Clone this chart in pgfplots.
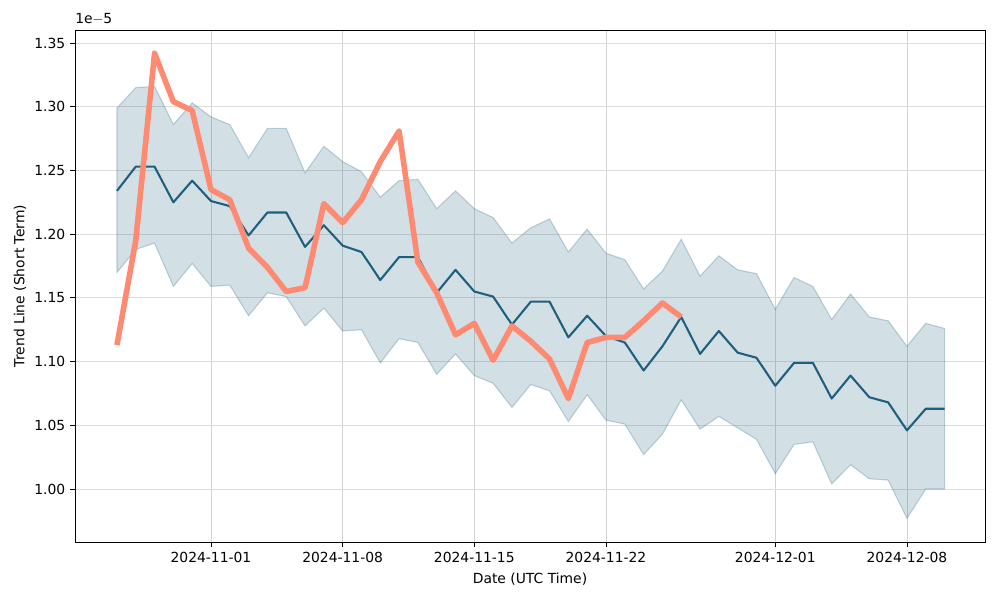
\documentclass[border=0pt]{standalone}
\usepackage{fontspec}
\setmainfont{DejaVu Sans}
\usepackage{pgfplots}
\usepackage{pgfplotstable}
\pgfplotsset{compat=1.18}
\definecolor{Trend}{HTML}{1F5F7E}
\definecolor{Price}{HTML}{FF8A72}
\definecolor{GridGray}{HTML}{DDDDDD}

% day index 0 = 2024-10-27
\pgfplotstableread{
x mid
0 1.234
1 1.253
2 1.253
3 1.225
4 1.242
5 1.226
6 1.222
7 1.199
8 1.217
9 1.217
10 1.190
11 1.207
12 1.191
13 1.186
14 1.164
15 1.182
16 1.182
17 1.154
18 1.172
19 1.155
20 1.151
21 1.129
22 1.147
23 1.147
24 1.119
25 1.136
26 1.120
27 1.115
28 1.093
29 1.112
30 1.135
31 1.106
32 1.124
33 1.107
34 1.103
35 1.081
36 1.099
37 1.099
38 1.071
39 1.089
40 1.072
41 1.068
42 1.046
43 1.063
44 1.063
}\midtable

\pgfplotstableread{
x price
0 1.113
1 1.195
2 1.342
3 1.304
4 1.297
5 1.235
6 1.227
7 1.189
8 1.174
9 1.155
10 1.158
11 1.224
12 1.209
13 1.227
14 1.257
15 1.281
16 1.178
17 1.154
18 1.121
19 1.130
20 1.101
21 1.128
22 1.116
23 1.102
24 1.071
25 1.115
26 1.119
27 1.119
28 1.132
29 1.146
30 1.135
}\pricetable

\begin{document}
\begin{tikzpicture}
\begin{axis}[
    scale only axis,
    width=655.2pt, height=368.6pt,
    xmin=-2.23, xmax=46.15,
    ymin=0.9584, ymax=1.3602,
    xtick={5,12,19,26,35,42},
    xticklabels={2024-11-01,2024-11-08,2024-11-15,2024-11-22,2024-12-01,2024-12-08},
    ytick={1.00,1.05,1.10,1.15,1.20,1.25,1.30,1.35},
    yticklabel style={/pgf/number format/.cd,fixed,fixed zerofill,precision=2},
    scaled y ticks=false,
    /pgf/number format/assume math mode=true,
    tick align=outside,
    major tick length=3.5pt,
    xtick pos=bottom, ytick pos=left,
    tick style={black, line width=0.6pt},
    grid=major,
    grid style={GridGray, line width=0.6pt},
    x grid style={gray!35, line width=0.6pt},
    axis line style={line width=0.6pt},
    font=\fontsize{10pt}{12pt}\selectfont,
    xlabel={Date (UTC Time)},
    ylabel={Trend Line (Short Term)},
    xlabel style={yshift=-1pt},
    ylabel style={yshift=-1pt},
    clip=true,
]
% confidence band: upper edge forward, lower edge back
\addplot[fill=Trend, fill opacity=0.2, draw=Trend, draw opacity=0.25, line width=0.8pt] coordinates {
(0,1.299) (1,1.315) (2,1.316) (3,1.286) (4,1.303) (5,1.292) (6,1.286) (7,1.260) (8,1.283) (9,1.283)
(10,1.248) (11,1.269) (12,1.257) (13,1.249) (14,1.229) (15,1.242) (16,1.243) (17,1.220) (18,1.234) (19,1.220)
(20,1.213) (21,1.193) (22,1.205) (23,1.212) (24,1.186) (25,1.204) (26,1.185) (27,1.180) (28,1.157) (29,1.171)
(30,1.196) (31,1.167) (32,1.183) (33,1.172) (34,1.169) (35,1.141) (36,1.166) (37,1.159) (38,1.133) (39,1.153)
(40,1.135) (41,1.132) (42,1.112) (43,1.130) (44,1.126)
(44,1.000) (43,1.000) (42,0.977) (41,1.007) (40,1.008) (39,1.019) (38,1.004) (37,1.037) (36,1.035) (35,1.012)
(34,1.039) (33,1.048) (32,1.057) (31,1.047) (30,1.070) (29,1.043) (28,1.027) (27,1.051) (26,1.054) (25,1.074)
(24,1.053) (23,1.077) (22,1.082) (21,1.064) (20,1.083) (19,1.089) (18,1.106) (17,1.090) (16,1.115) (15,1.118)
(14,1.099) (13,1.125) (12,1.124) (11,1.142) (10,1.128) (9,1.151) (8,1.154) (7,1.136) (6,1.160) (5,1.159)
(4,1.177) (3,1.159) (2,1.193) (1,1.188) (0,1.170)
} -- cycle;
\addplot[Trend, line width=1.5pt, line join=round] table[x=x, y=mid] {\midtable};
\addplot[Price, line width=4pt, line join=round] table[x=x, y=price] {\pricetable};
\end{axis}
\node[anchor=south west, font=\fontsize{10pt}{12pt}\selectfont, inner sep=0pt] at (0,372pt) {1e$-$5};
\pgfresetboundingbox
\path[use as bounding box] (-54pt,-41.76pt) rectangle (666pt,390.24pt);
\end{tikzpicture}
\end{document}
